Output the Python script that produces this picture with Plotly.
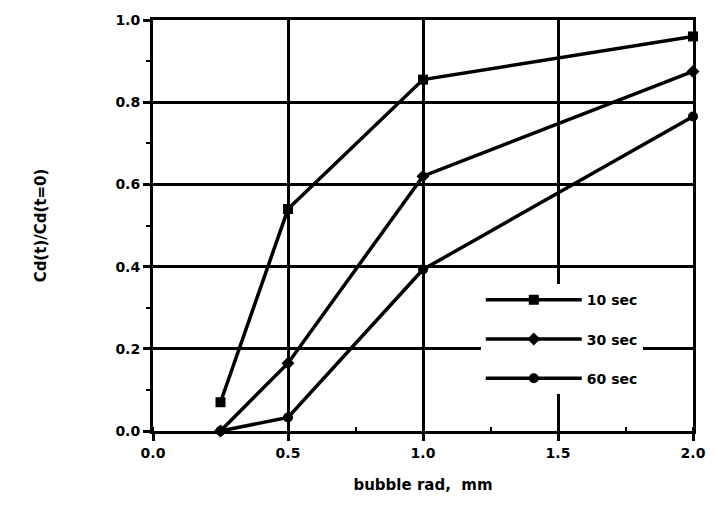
import plotly.graph_objects as go

bubble_rad = [0.25, 0.5, 1.0, 2.0]
series_names = ["10 sec", "30 sec", "60 sec"]
ratio_10s = [0.07, 0.54, 0.855, 0.96]
ratio_30s = [0.0, 0.165, 0.62, 0.875]
ratio_60s = [0.0, 0.033, 0.393, 0.765]
x_ticks = [0.0, 0.5, 1.0, 1.5, 2.0]
y_ticks = [0.0, 0.2, 0.4, 0.6, 0.8, 1.0]

series = [ratio_10s, ratio_30s, ratio_60s]
symbols = ["square", "diamond", "circle"]
sizes = [10, 10, 10]

FONT = "DejaVu Sans"

fig = go.Figure()
for i, (name, vals) in enumerate(zip(series_names, series)):
    fig.add_trace(go.Scatter(
        x=bubble_rad, y=vals, name="<b>" + name + "</b>",
        mode="lines+markers",
        line=dict(color="black", width=3.5),
        marker=dict(symbol=symbols[i], size=sizes[i], color="black"),
        legendgroup=name, cliponaxis=False,
    ))

axis_common = dict(
    showline=True, linecolor="black", linewidth=3, mirror=True,
    showgrid=True, gridcolor="black", gridwidth=3,
    ticks="outside", ticklen=7, tickwidth=2.5, tickcolor="black",
    zeroline=False,
    tickfont=dict(family=FONT, size=14, color="black"),
)

fig.update_xaxes(
    range=[0, 2.0], tickvals=x_ticks,
    ticktext=["<b>%.1f</b>" % v for v in x_ticks],
    minor=dict(dtick=0.25, ticks="inside", ticklen=4, tickwidth=2, tickcolor="black", showgrid=False),
    title=dict(text="<b>bubble rad,  mm</b>", font=dict(family=FONT, size=15, color="black"), standoff=20),
    **axis_common,
)
fig.update_yaxes(
    range=[0, 1.0], tickvals=y_ticks,
    ticktext=["<b>%.1f</b>" % v for v in y_ticks],
    minor=dict(dtick=0.1, ticks="outside", ticklen=4, tickwidth=2, tickcolor="black", showgrid=False),
    title=dict(text="<b>Cd(t)/Cd(t=0)</b>", font=dict(family=FONT, size=15, color="black"), standoff=66),
    **axis_common,
)

fig.update_layout(
    width=718, height=516,
    margin=dict(l=153, r=17, t=19, b=85),
    paper_bgcolor="white", plot_bgcolor="white",
    showlegend=True,
    legend=dict(
        x=0.607, y=0.357, xanchor="left", yanchor="top",
        bgcolor="white", borderwidth=0,
        font=dict(family=FONT, size=14, color="black"),
        tracegroupgap=18, itemwidth=96,
    ),
)

fig.write_html("out.html")
